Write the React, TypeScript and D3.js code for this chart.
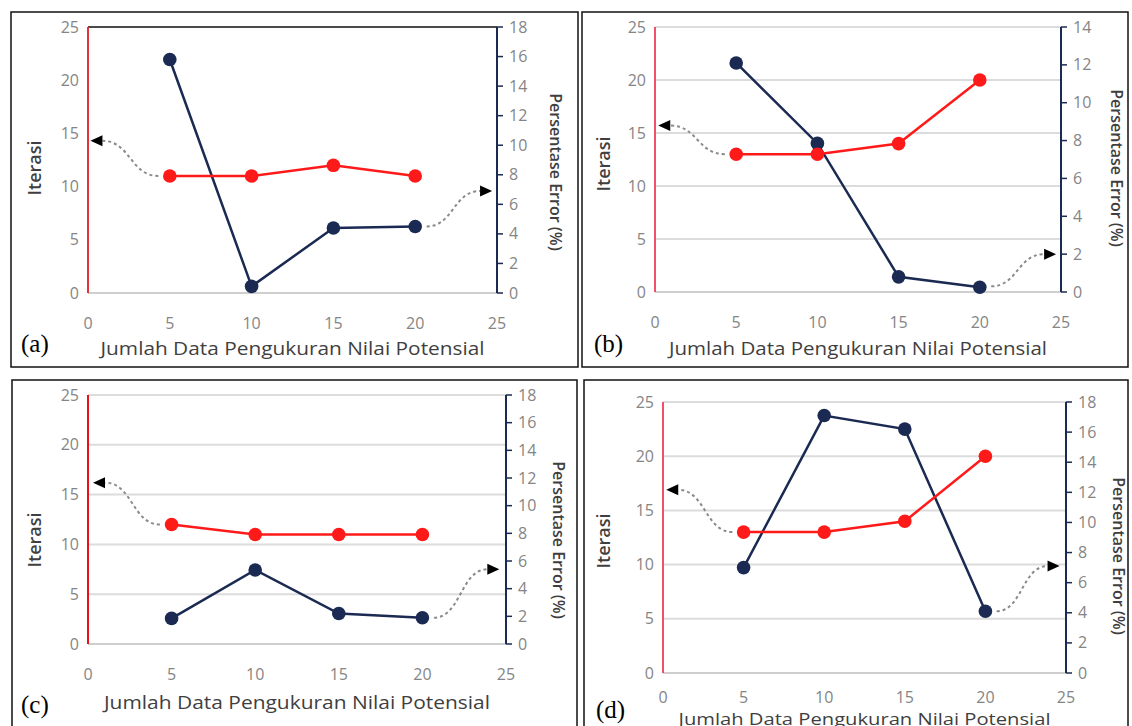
import React from "react";
import * as d3 from "d3";

// ---------- data ----------
const xValues = [5, 10, 15, 20];
const xTicks = [0, 5, 10, 15, 20, 25];
const iterTicks = [0, 5, 10, 15, 20, 25];
const errTicks18 = [0, 2, 4, 6, 8, 10, 12, 14, 16, 18];
const errTicks14 = [0, 2, 4, 6, 8, 10, 12, 14];

const iterasiA = [11, 11, 12, 11];
const errorA = [15.8, 0.45, 4.4, 4.5];
const iterasiB = [13, 13, 14, 20];
const errorB = [12.1, 7.85, 0.8, 0.25];
const iterasiC = [12, 11, 11, 11];
const errorC = [1.85, 5.35, 2.2, 1.9];
const iterasiD = [13, 13, 14, 20];
const errorD = [7.0, 17.1, 16.2, 4.1];

const panelLabels = ["(a)", "(b)", "(c)", "(d)"];
const xTitle = "Jumlah Data Pengukuran Nilai Potensial";
const yLeftTitle = "Iterasi";
const yRightTitle = "Persentase Error (%)";

// annotation arrows [fromX, fromY, tipX, tipY] (left arrow in Iterasi units, right arrow in Error units)
const leftArrowA = [4.3, 11, 0.15, 14.3];
const rightArrowA = [20.7, 4.5, 24.7, 6.9];
const leftArrowB = [4.3, 13, 0.2, 15.7];
const rightArrowB = [20.7, 0.3, 24.7, 2.0];
const leftArrowC = [4.3, 12, 0.3, 16.2];
const rightArrowC = [20.7, 1.9, 24.6, 5.4];
const leftArrowD = [4.3, 13, 0.2, 16.9];
const rightArrowD = [20.7, 4.1, 24.6, 7.1];

// ---------- layout ----------
type Panel = {
  label: string;
  iter: number[];
  err: number[];
  errMax: number;
  errTicks: number[];
  leftArrow: number[];
  rightArrow: number[];
  border: { x: number; y: number; w: number; h: number };
  plot: { x0: number; x1: number; yTop: number; yBot: number };
  grid: boolean;
  topDark: boolean;
  redAxis: string;
  labelPos: [number, number];
  tickDy: number;
  titleDy: number;
  titleLen: number;
  titleSize: number;
  iterPos: [number, number];
  pctPos: [number, number];
};

const panels: Panel[] = [
  {
    label: panelLabels[0], iter: iterasiA, err: errorA, errMax: 18, errTicks: errTicks18,
    leftArrow: leftArrowA, rightArrow: rightArrowA,
    border: { x: 11, y: 12, w: 567, h: 355 },
    plot: { x0: 88, x1: 497, yTop: 27, yBot: 293 },
    grid: false, topDark: true, redAxis: "#e8303a",
    labelPos: [21, 343], tickDy: 30, titleDy: 56, titleLen: 384, titleSize: 18, iterPos: [35, 168], pctPos: [556, 172],
  },
  {
    label: panelLabels[1], iter: iterasiB, err: errorB, errMax: 14, errTicks: errTicks14,
    leftArrow: leftArrowB, rightArrow: rightArrowB,
    border: { x: 582, y: 12, w: 546, h: 355 },
    plot: { x0: 655, x1: 1061, yTop: 27, yBot: 292 },
    grid: true, topDark: false, redAxis: "#f0506a",
    labelPos: [594, 343], tickDy: 30, titleDy: 57, titleLen: 378, titleSize: 18, iterPos: [604, 164], pctPos: [1117, 168],
  },
  {
    label: panelLabels[2], iter: iterasiC, err: errorC, errMax: 18, errTicks: errTicks18,
    leftArrow: leftArrowC, rightArrow: rightArrowC,
    border: { x: 12, y: 380, w: 565, h: 360 },
    plot: { x0: 88, x1: 506, yTop: 395, yBot: 644 },
    grid: true, topDark: false, redAxis: "#e8101a",
    labelPos: [21, 704], tickDy: 30, titleDy: 59, titleLen: 386, titleSize: 18, iterPos: [35, 540], pctPos: [559, 540],
  },
  {
    label: panelLabels[3], iter: iterasiD, err: errorD, errMax: 18, errTicks: errTicks18,
    leftArrow: leftArrowD, rightArrow: rightArrowD,
    border: { x: 584, y: 380, w: 544, h: 360 },
    plot: { x0: 663, x1: 1066, yTop: 402, yBot: 673 },
    grid: true, topDark: false, redAxis: "#f0506a",
    labelPos: [596, 709], tickDy: 24, titleDy: 46, titleLen: 372, titleSize: 17, iterPos: [604, 541], pctPos: [1119, 556],
  },
];

const FONT = "'Open Sans', 'Noto Sans', sans-serif";
const RED = "#ff1a1a";
const NAVY = "#1a2a52";
const TICK = "#858585";
const TITLE = "#3f3f3f";

function sCurve(x0: number, y0: number, x1: number, y1: number) {
  const mx = (x0 + x1) / 2;
  const p = d3.path();
  p.moveTo(x0, y0);
  p.bezierCurveTo(mx, y0, mx, y1, x1, y1);
  return p.toString();
}

function ChartPanel({ p }: { p: Panel }) {
  const x = d3.scaleLinear().domain([0, 25]).range([p.plot.x0, p.plot.x1]);
  const yL = d3.scaleLinear().domain([0, 25]).range([p.plot.yBot, p.plot.yTop]);
  const yR = d3.scaleLinear().domain([0, p.errMax]).range([p.plot.yBot, p.plot.yTop]);

  const iterLine = d3
    .line<number>()
    .x((_, i) => x(xValues[i]))
    .y((d) => yL(d));
  const errLine = d3
    .line<number>()
    .x((_, i) => x(xValues[i]))
    .y((d) => yR(d));

  const ah = 12;
  const aw = 5.5;
  const [lfx, lfy, ltx, lty] = p.leftArrow;
  const lsx = x(lfx), lsy = yL(lfy), ltipx = x(ltx), ltipy = yL(lty);
  const [rfx, rfy, rtx, rty] = p.rightArrow;
  const rsx = x(rfx), rsy = yR(rfy), rtipx = x(rtx), rtipy = yR(rty);

  const midX = (p.plot.x0 + p.plot.x1) / 2;

  return (
    <g>
      <rect
        x={p.border.x}
        y={p.border.y}
        width={p.border.w}
        height={p.border.h}
        fill="none"
        stroke="#111"
        strokeWidth={1.5}
      />
      {p.grid &&
        iterTicks
          .filter((t) => t > 0)
          .map((t) => (
            <line
              key={"g" + t}
              x1={p.plot.x0}
              x2={p.plot.x1}
              y1={yL(t)}
              y2={yL(t)}
              stroke="#dcdcdc"
              strokeWidth={2}
            />
          ))}
      {p.topDark && (
        <line x1={p.plot.x0} x2={p.plot.x1} y1={yL(25)} y2={yL(25)} stroke="#4a4a4a" strokeWidth={2} />
      )}
      <line x1={p.plot.x0} x2={p.plot.x1} y1={yL(0)} y2={yL(0)} stroke="#cfcfcf" strokeWidth={2} />
      <line x1={p.plot.x0} x2={p.plot.x0} y1={yL(0)} y2={yL(25)} stroke={p.redAxis} strokeWidth={2} />
      <line x1={p.plot.x1} x2={p.plot.x1} y1={yR(0)} y2={yR(p.errMax)} stroke={NAVY} strokeWidth={2} />
      {p.errTicks.map((t) => (
        <line key={"rt" + t} x1={p.plot.x1} x2={p.plot.x1 + 6} y1={yR(t)} y2={yR(t)} stroke={NAVY} strokeWidth={1.5} />
      ))}
      {iterTicks.map((t) => (
        <text
          key={"lt" + t}
          x={p.plot.x0 - 9}
          y={yL(t)}
          dy="0.35em"
          textAnchor="end"
          fontFamily={FONT}
          fontSize={16}
          fill={TICK}
        >
          {t}
        </text>
      ))}
      {p.errTicks.map((t) => (
        <text
          key={"rl" + t}
          x={p.plot.x1 + 12}
          y={yR(t)}
          dy="0.35em"
          textAnchor="start"
          fontFamily={FONT}
          fontSize={16}
          fill={TICK}
        >
          {t}
        </text>
      ))}
      {xTicks.map((t) => (
        <text
          key={"xt" + t}
          x={x(t)}
          y={yL(0) + p.tickDy}
          dy="0.35em"
          textAnchor="middle"
          fontFamily={FONT}
          fontSize={16}
          fill={TICK}
        >
          {t}
        </text>
      ))}
      <text
        x={midX}
        y={yL(0) + p.titleDy}
        dy="0.35em"
        textAnchor="middle"
        fontFamily={FONT}
        fontSize={p.titleSize}
        textLength={p.titleLen}
        lengthAdjust="spacingAndGlyphs"
        fill={TITLE}
      >
        {xTitle}
      </text>
      <text
        transform={`translate(${p.iterPos[0]},${p.iterPos[1]}) rotate(-90)`}
        dy="0.35em"
        textAnchor="middle"
        fontFamily={FONT}
        fontSize={18}
        fontWeight={600}
        fill={TITLE}
      >
        {yLeftTitle}
      </text>
      <text
        transform={`translate(${p.pctPos[0]},${p.pctPos[1]}) rotate(90)`}
        dy="0.35em"
        textAnchor="middle"
        fontFamily={FONT}
        fontSize={16}
        fontWeight={600}
        fill={TITLE}
      >
        {yRightTitle}
      </text>
      <text
        x={p.labelPos[0]}
        y={p.labelPos[1]}
        dy="0.35em"
        fontFamily="'Liberation Serif', 'Times New Roman', serif"
        fontSize={25}
        fill="#000"
      >
        {p.label}
      </text>
      <path d={sCurve(lsx, lsy, ltipx + ah, ltipy)} fill="none" stroke="#8a8a8a" strokeWidth={2} strokeDasharray="3,3" />
      <polygon
        points={`${ltipx},${ltipy} ${ltipx + ah},${ltipy - aw} ${ltipx + ah},${ltipy + aw}`}
        fill="#000"
      />
      <path d={sCurve(rsx, rsy, rtipx - ah, rtipy)} fill="none" stroke="#8a8a8a" strokeWidth={2} strokeDasharray="3,3" />
      <polygon
        points={`${rtipx},${rtipy} ${rtipx - ah},${rtipy - aw} ${rtipx - ah},${rtipy + aw}`}
        fill="#000"
      />
      <path d={errLine(p.err) || ""} fill="none" stroke={NAVY} strokeWidth={2.5} />
      {p.err.map((v, i) => (
        <circle key={"e" + i} cx={x(xValues[i])} cy={yR(v)} r={6.8} fill={NAVY} />
      ))}
      <path d={iterLine(p.iter) || ""} fill="none" stroke={RED} strokeWidth={2.5} />
      {p.iter.map((v, i) => (
        <circle key={"i" + i} cx={x(xValues[i])} cy={yL(v)} r={6.8} fill={RED} />
      ))}
    </g>
  );
}

export default function App() {
  return (
    <svg
      width={1132}
      height={726}
      style={{ position: "absolute", left: 0, top: 0, background: "#fff" }}
    >
      <rect x={0} y={0} width={1132} height={726} fill="#fff" />
      {panels.map((p) => (
        <ChartPanel key={p.label} p={p} />
      ))}
    </svg>
  );
}
